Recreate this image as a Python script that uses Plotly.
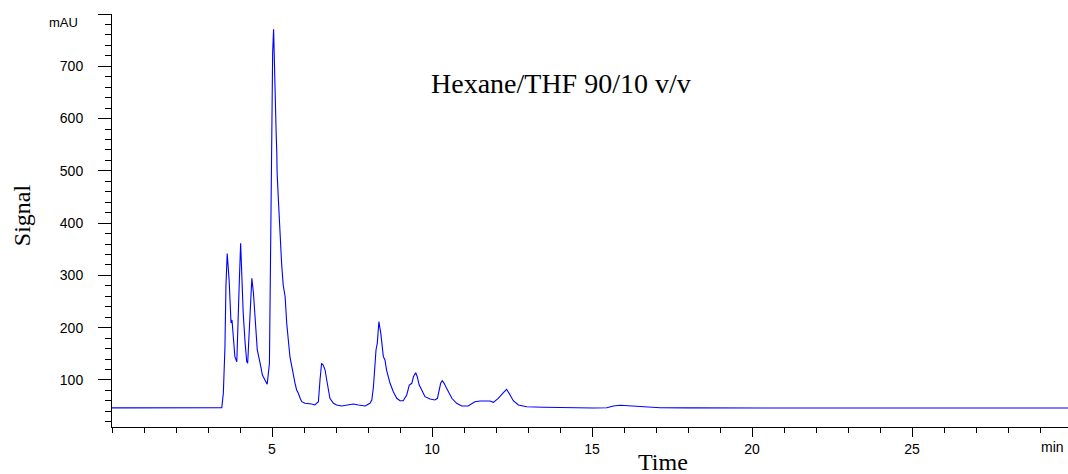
import plotly.graph_objects as go

# Chromatogram trace (time in min, signal in mAU)
time_min = [
    0.0, 1.0, 2.0, 3.0, 3.31, 3.43, 3.48, 3.53, 3.56, 3.60, 3.66, 3.69, 3.72, 3.75,
    3.79, 3.84, 3.90, 3.94, 3.98, 4.02, 4.05, 4.10, 4.16, 4.21, 4.24, 4.29, 4.33,
    4.37, 4.42, 4.49, 4.54, 4.63, 4.70, 4.78, 4.85, 4.92, 4.96, 4.99, 5.02, 5.05,
    5.07, 5.09, 5.13, 5.15, 5.16, 5.20, 5.23, 5.25, 5.30, 5.35, 5.41, 5.46, 5.51,
    5.56, 5.62, 5.67, 5.72, 5.77, 5.82, 5.88, 5.93, 6.03, 6.13, 6.24, 6.34, 6.45,
    6.50, 6.55, 6.60, 6.66, 6.71, 6.76, 6.81, 6.92, 7.02, 7.18, 7.33, 7.54, 7.70,
    7.91, 8.06, 8.12, 8.17, 8.19, 8.25, 8.29, 8.34, 8.40, 8.48, 8.53, 8.58, 8.69,
    8.79, 8.90, 9.00, 9.10, 9.21, 9.29, 9.37, 9.42, 9.49, 9.54, 9.60, 9.68, 9.78,
    9.94, 10.09, 10.17, 10.23, 10.27, 10.32, 10.38, 10.44, 10.51, 10.62, 10.77,
    10.93, 11.13, 11.34, 11.50, 11.81, 11.92, 12.07, 12.21, 12.33, 12.44, 12.54,
    12.70, 12.96, 13.48, 14.0, 15.04, 15.46, 15.67, 15.88, 16.08, 16.40, 16.71,
    17.13, 18.0, 20.0, 22.0, 25.0, 28.0, 29.9,
]
signal_mau = [
    46.5, 46.5, 46.3, 46.5, 46.5, 46.9, 75.0, 163.6, 278.4, 342.0, 291.0, 233.8, 209.0, 214.7,
    176.4, 144.5, 134.9, 195.5, 291.0, 361.4, 310.3, 228.0, 170.7, 134.9, 131.8, 195.5, 272.0,
    294.4, 266.3, 195.5, 157.3, 131.8, 109.5, 99.9, 91.7, 131.8, 367.7, 603.5, 725.4, 771.0,
    718.3, 629.7, 572.4, 534.0, 495.8, 444.2, 406.0, 367.7, 323.1, 281.6, 259.2, 208.4, 170.1,
    144.5, 125.3, 106.2, 93.6, 80.8, 75.0, 64.9, 58.4, 55.3, 55.3, 54.0, 52.1, 58.4,
    99.9, 131.8, 128.6, 119.0, 99.9, 80.8, 64.9, 55.3, 52.1, 50.2, 52.1, 54.0, 52.1,
    50.2, 55.3, 61.6, 87.1, 106.2, 157.3, 170.1, 211.4, 189.2, 144.5, 138.2, 119.0, 93.6,
    77.5, 64.9, 60.3, 60.3, 71.2, 90.3, 93.6, 106.2, 113.9, 106.2, 90.3, 80.8, 68.0,
    63.6, 61.6, 64.9, 80.8, 93.6, 98.6, 93.6, 85.9, 77.5, 64.9, 55.3,
    50.2, 50.2, 58.4, 59.7, 59.7, 57.2, 64.9, 74.5, 82.1, 71.2, 60.3,
    52.1, 48.8, 47.7, 46.9, 46.3, 46.9, 50.2, 51.5, 50.7, 49.6, 48.3,
    46.9, 46.5, 46.3, 46.3, 46.3, 46.3, 46.3,
]

y_tick_vals = [100, 200, 300, 400, 500, 600, 700, 800]
y_tick_text = ["100", "200", "300", "400", "500", "600", "700", ""]
x_tick_vals = [5, 10, 15, 20, 25]
x_tick_text = ["5", "10", "15", "20", "25"]

sans = "Liberation Sans, Arial, sans-serif"
serif = "Liberation Serif, Times New Roman, serif"

fig = go.Figure()
fig.add_trace(go.Scatter(
    x=time_min, y=signal_mau, mode="lines",
    line=dict(color="#0000ff", width=1.1),
    showlegend=False, hoverinfo="skip",
))

fig.update_layout(
    width=1068, height=474,
    margin=dict(l=112, r=0, t=14, b=47),
    paper_bgcolor="white", plot_bgcolor="white",
    xaxis=dict(
        range=[0, 29.875], showgrid=False, zeroline=False,
        showline=True, linecolor="black", linewidth=1,
        tickmode="array", tickvals=x_tick_vals, ticktext=x_tick_text,
        ticks="outside", ticklen=9, tickcolor="black", tickwidth=1,
        tickfont=dict(family=sans, size=14, color="black"),
        minor=dict(dtick=1, tick0=0, ticks="outside", ticklen=5,
                   tickcolor="black", tickwidth=1, showgrid=False),
    ),
    yaxis=dict(
        range=[10, 800], showgrid=False, zeroline=False,
        showline=True, linecolor="black", linewidth=1,
        tickmode="array", tickvals=y_tick_vals, ticktext=y_tick_text,
        ticks="outside", ticklen=13, tickcolor="black", tickwidth=1,
        tickfont=dict(family=sans, size=14, color="black"),
        ticklabelstandoff=12,
        minor=dict(dtick=20, tick0=0, ticks="outside", ticklen=6,
                   tickcolor="black", tickwidth=1, showgrid=False),
    ),
    annotations=[
        dict(text="Hexane/THF 90/10 v/v", x=14.03, y=668, xref="x", yref="y",
             showarrow=False, xanchor="center", yanchor="middle",
             font=dict(family=serif, size=28, color="black")),
        dict(text="mAU", x=-0.0335, y=0.9806, xref="paper", yref="paper",
             showarrow=False, xanchor="right", yanchor="middle",
             font=dict(family=sans, size=13, color="black")),
        dict(text="min", x=29.375, y=-0.0484, xref="x", yref="paper",
             showarrow=False, xanchor="center", yanchor="middle",
             font=dict(family=sans, size=14, color="black")),
        dict(text="Time", x=17.22, y=-0.0847, xref="x", yref="paper",
             showarrow=False, xanchor="center", yanchor="middle",
             font=dict(family=serif, size=24, color="black")),
        dict(text="Signal", x=-0.0941, y=0.513, xref="paper", yref="paper",
             showarrow=False, xanchor="center", yanchor="middle", textangle=-90,
             font=dict(family=serif, size=24, color="black")),
    ],
)

fig.write_html(
    "out.html",
    config={"displayModeBar": False},
    post_script="document.body.style.margin='0';document.body.style.overflow='hidden';",
)
